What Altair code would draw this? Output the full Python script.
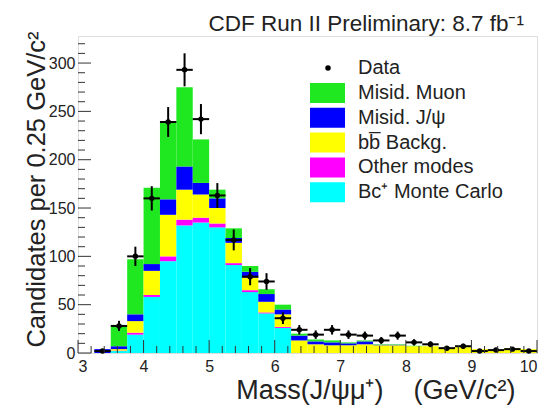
import altair as alt
import pandas as pd

# ---- histogram bins (GeV/c^2) ----
bin_start = [3.25, 3.5, 3.75, 4.0, 4.25, 4.5, 4.75, 5.0, 5.25, 5.5, 5.75, 6.0, 6.25, 6.5,
             6.75, 7.0, 7.25, 7.5, 7.75, 8.0, 8.25, 8.5, 8.75, 9.0, 9.25, 9.5, 9.75]
bin_end = [3.5, 3.75, 4.0, 4.25, 4.5, 4.75, 5.0, 5.25, 5.5, 5.75, 6.0, 6.25, 6.5, 6.75,
           7.0, 7.25, 7.5, 7.75, 8.0, 8.25, 8.5, 8.75, 9.0, 9.25, 9.5, 9.75, 10.0]

# ---- stacked components (per bin, not cumulative), bottom to top ----
bc_mc = [0, 2, 19, 58, 95, 132, 135, 130, 91, 63, 41, 26, 0, 0,
         0, 0, 0, 0, 0, 0, 0, 0, 0, 0, 0, 0, 0]
other_modes = [0, 0.5, 2, 2, 5, 6, 5, 4, 2, 2, 1, 1, 0, 0,
               0, 0, 0, 0, 0, 0, 0, 0, 0, 0, 0, 0, 0]
bb_backg = [0, 1.5, 12, 25, 43, 31, 24, 16, 21, 13, 11, 13, 13, 9,
            8, 8, 9, 8, 8, 7, 7, 5, 6, 4, 3, 5, 4]
misid_jpsi = [4, 3, 7, 7, 16, 24, 12, 10, 5, 6, 8, 5, 5, 3,
              3, 2, 3, 0.5, 0.5, 0, 0, 0, 0, 0, 0, 0, 0]
misid_muon = [0, 21, 57, 79, 80, 82, 45, 9, 10, 6, 5, 5, 2, 2,
              2, 1, 1, 0.5, 0.5, 0.5, 0, 0, 0, 0, 0, 0, 0]

comp_names = ["Misid. Muon", "Misid. J/\u03c8", "bb\u0305 Backg.", "Other modes", "Bc\u207a Monte Carlo"]
comp_colors = ["#20e820", "#0000ff", "#ffff00", "#ff00ff", "#00ffff"]

# ---- data points ----
data_x = [3.375, 3.625, 3.875, 4.125, 4.375, 4.625, 4.875, 5.125, 5.375, 5.625, 5.875, 6.125,
          6.375, 6.625, 6.875, 7.125, 7.375, 7.625, 7.875, 8.125, 8.375, 8.625, 8.875,
          9.125, 9.375, 9.625, 9.875]
data_n = [2, 28, 100, 160, 239, 293, 242, 163, 117, 79, 74, 36,
          24, 19, 24, 19, 18, 13, 18, 11, 9, 5, 7, 2, 3, 4, 2]
data_err = [1.4, 5.3, 10, 12.6, 15.5, 17.1, 15.6, 12.8, 10.8, 8.9, 8.6, 6,
            4.9, 4.4, 4.9, 4.4, 4.2, 3.6, 4.2, 3.3, 3, 2.2, 2.6, 1.4, 1.7, 2, 1.4]

# ---- axis ticks ----
x_major = [3, 4, 5, 6, 7, 8, 9, 10]
x_minor = [3.2, 3.4, 3.6, 3.8, 4.2, 4.4, 4.6, 4.8, 5.2, 5.4, 5.6, 5.8, 6.2, 6.4, 6.6, 6.8,
           7.2, 7.4, 7.6, 7.8, 8.2, 8.4, 8.6, 8.8, 9.2, 9.4, 9.6, 9.8]
y_major = [0, 50, 100, 150, 200, 250, 300]
y_minor = [10, 20, 30, 40, 60, 70, 80, 90, 110, 120, 130, 140, 160, 170, 180, 190,
           210, 220, 230, 240, 260, 270, 280, 290, 310, 320]

W, H = 459, 317
FONT = "Liberation Sans"
TXT = "#222"

# build rect table
rows = []
stack = [("Bc\u207a Monte Carlo", bc_mc), ("Other modes", other_modes),
         ("bb\u0305 Backg.", bb_backg), ("Misid. J/\u03c8", misid_jpsi),
         ("Misid. Muon", misid_muon)]
for i in range(len(bin_start)):
    base = 0.0
    for name, vals in stack:
        v = vals[i]
        if v > 0:
            rows.append({"x0": bin_start[i], "x1": bin_end[i], "lo": base, "hi": base + v, "comp": name})
        base += v
rect_df = pd.DataFrame(rows)

pts_df = pd.DataFrame({
    "x": data_x, "n": data_n,
    "lo": [n - e for n, e in zip(data_n, data_err)],
    "hi": [n + e for n, e in zip(data_n, data_err)],
    "xl": [x - 0.125 for x in data_x], "xr": [x + 0.125 for x in data_x],
    "kind": ["Data"] * len(data_x),
})

xscale = alt.Scale(domain=[3, 10], nice=False, zero=False)
yscale = alt.Scale(domain=[0, 328], nice=False)

xaxis = alt.Axis(
    values=x_major, ticks=False, domain=False, grid=False, labelFont=FONT,
    labelFontSize=16, labelColor=TXT, labelPadding=5, format="d",
    title="Mass(J/\u03c8\u03bc\u207a)\u00a0\u00a0\u00a0\u00a0(GeV/c\u00b2)", titleFont=FONT,
    titleFontSize=27, titleFontWeight="normal", titleColor=TXT, titleX=437, titleY=45,
    titleAlign="right", titleBaseline="alphabetic")
yaxis = alt.Axis(
    values=y_major, ticks=False, domain=False, grid=False, labelFont=FONT,
    labelFontSize=16, labelColor=TXT, labelPadding=3,
    title="Candidates per 0.25 GeV/c\u00b2", titleFont=FONT, titleFontSize=25.5,
    titleFontWeight="normal", titleColor=TXT, titleAngle=-90, titleX=-34, titleY=-5,
    titleAlign="right", titleBaseline="alphabetic")

rects = alt.Chart(rect_df).mark_rect().encode(
    x=alt.X("x0:Q", scale=xscale, axis=xaxis),
    x2="x1:Q",
    y=alt.Y("lo:Q", scale=yscale, axis=yaxis),
    y2="hi:Q",
    color=alt.Color("comp:N", scale=alt.Scale(domain=comp_names, range=comp_colors),
                    legend=alt.Legend(orient="none", legendX=239.5, legendY=47, title=None,
                                      symbolType="M-1.75,-1H1.75V1H-1.75Z", symbolSize=400,
                                      symbolStrokeWidth=0, symbolOpacity=1,
                                      labelFont=FONT, labelFontSize=20, labelColor=TXT,
                                      labelOffset=20.5, rowPadding=4.8, padding=0)),
)

vbars = alt.Chart(pts_df).mark_rule(color="black", strokeWidth=2).encode(
    x=alt.X("x:Q", scale=xscale, axis=xaxis),
    y=alt.Y("lo:Q", scale=yscale, axis=yaxis), y2="hi:Q")
hbars = alt.Chart(pts_df).mark_rule(color="black", strokeWidth=2).encode(
    x=alt.X("xl:Q", scale=xscale, axis=xaxis), x2="xr:Q",
    y=alt.Y("n:Q", scale=yscale, axis=yaxis))
points = alt.Chart(pts_df).mark_point(filled=True, size=30, opacity=1, color="black").encode(
    x=alt.X("x:Q", scale=xscale, axis=xaxis),
    y=alt.Y("n:Q", scale=yscale, axis=yaxis),
    shape=alt.Shape("kind:N", scale=alt.Scale(domain=["Data"], range=["circle"]),
                    legend=alt.Legend(orient="none", legendX=240, legendY=22, title=None,
                                      symbolSize=30, symbolFillColor="black",
                                      symbolStrokeColor="black", labelFont=FONT,
                                      labelFontSize=20, labelColor=TXT, labelOffset=20,
                                      padding=0)),
)

ytick_major = alt.Chart(pd.DataFrame({"v": y_major})).mark_rule(color="#333", strokeWidth=1).encode(
    y=alt.Y("v:Q", scale=yscale, axis=yaxis), x=alt.value(0), x2=alt.value(13))
ytick_minor = alt.Chart(pd.DataFrame({"v": y_minor})).mark_rule(color="#333", strokeWidth=1).encode(
    y=alt.Y("v:Q", scale=yscale, axis=yaxis), x=alt.value(0), x2=alt.value(7))
xtick_major = alt.Chart(pd.DataFrame({"v": x_major})).mark_rule(color="#333", strokeWidth=1).encode(
    x=alt.X("v:Q", scale=xscale, axis=xaxis), y=alt.value(H), y2=alt.value(H - 13))
xtick_minor = alt.Chart(pd.DataFrame({"v": x_minor})).mark_rule(color="#333", strokeWidth=1).encode(
    x=alt.X("v:Q", scale=xscale, axis=xaxis), y=alt.value(H), y2=alt.value(H - 7))

chart = alt.layer(
    rects, vbars, hbars, points, ytick_major, ytick_minor, xtick_major, xtick_minor
).properties(
    width=W, height=H,
    title=alt.TitleParams("CDF Run II Preliminary: 8.7 fb\u207b\u00b9", anchor="end",
                          font=FONT, fontSize=22.5, fontWeight="normal", color=TXT,
                          offset=7, dx=-14, dy=11),
    autosize=alt.AutoSizeParams(type="none"),
    padding={"left": 70, "top": 28, "right": 2, "bottom": 58},
).configure_view(stroke="#333", strokeWidth=1).configure(background="white")

chart.save("out.html", embed_options={"renderer": "svg", "actions": False})
